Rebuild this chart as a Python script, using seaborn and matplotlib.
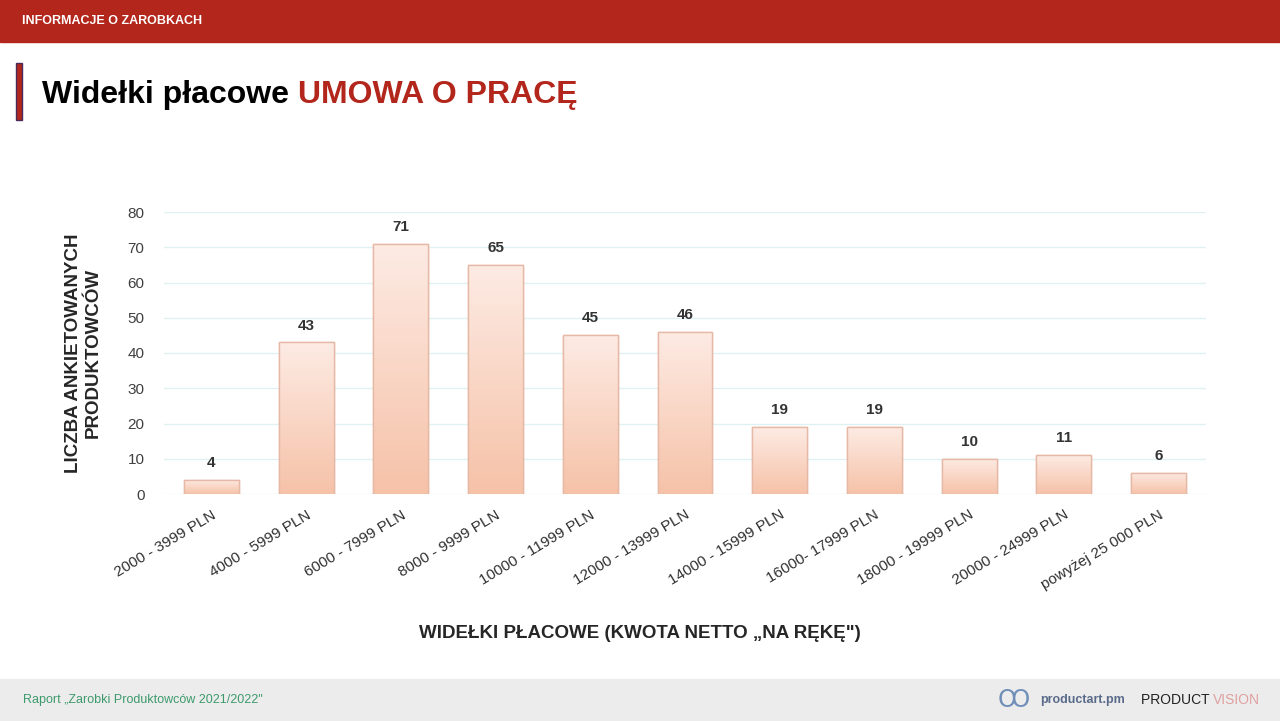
import numpy as np
import pandas as pd
import seaborn as sns
import matplotlib.pyplot as plt
from matplotlib.patches import Rectangle
from matplotlib.colors import LinearSegmentedColormap

ranges = ['2000 - 3999 PLN', '4000 - 5999 PLN', '6000 - 7999 PLN', '8000 - 9999 PLN',
          '10000 - 11999 PLN', '12000 - 13999 PLN', '14000 - 15999 PLN', '16000- 17999 PLN',
          '18000 - 19999 PLN', '20000 - 24999 PLN', 'powyżej 25 000 PLN']
counts = [4, 43, 71, 65, 45, 46, 19, 19, 10, 11, 6]
yticks = [0, 10, 20, 30, 40, 50, 60, 70, 80]

df = pd.DataFrame({'range': ranges, 'count': counts})

sns.set_style('white')
plt.rcParams['font.family'] = ['Liberation Sans', 'DejaVu Sans']

fig = plt.figure(figsize=(12.8, 7.21), dpi=100)

# header / footer bands
fig.patches.append(Rectangle((0, 1 - 42 / 721), 1, 42 / 721, transform=fig.transFigure,
                             color='#b2261b', zorder=0))
fig.patches.append(Rectangle((0, 0), 1, 42 / 721, transform=fig.transFigure,
                             color='#ececec', zorder=0))
fig.patches.append(Rectangle((16 / 1280, 1 - 120 / 721), 6 / 1280, 57 / 721,
                             transform=fig.transFigure, facecolor='#b2261b',
                             edgecolor='#4a2a5a', linewidth=1, zorder=1))
fig.text(22 / 1280, 1 - 21 / 721, 'INFORMACJE O ZAROBKACH', color='white',
         fontsize=9, fontweight='bold', va='center')
t1 = fig.text(42 / 1280, 1 - 95 / 721, 'Widełki płacowe ', color='black',
              fontsize=23, fontweight='bold', va='center')
fig.canvas.draw()
bb = t1.get_window_extent()
fig.text(bb.x1 / 1280, 1 - 95 / 721, 'UMOWA O PRACĘ', color='#b2261b',
         fontsize=23, fontweight='bold', va='center')
fig.text(23 / 1280, 1 - 700 / 721, 'Raport „Zarobki Produktowców 2021/2022"', color='#3d9a6c',
         fontsize=9, va='center')
fig.text(998 / 1280, 1 - 700 / 721, 'Ꝏ', color='#6f8fb8', fontsize=17, va='center',
         family='DejaVu Sans')
fig.text(1040 / 1280, 1 - 700 / 721, 'productart.pm', color='#5a6b8a', fontsize=9,
         fontweight='bold', va='center')
pv = fig.text(1141 / 1280, 1 - 700 / 721, 'PRODUCT ', color='#222222', fontsize=10,
              va='center')
fig.canvas.draw()
pb = pv.get_window_extent()
fig.text(pb.x1 / 1280, 1 - 700 / 721, 'VISION', color='#e0a0a0', fontsize=10, va='center')

ax = fig.add_axes([164 / 1280, 227 / 721, 1042 / 1280, 282 / 721])
sns.barplot(data=df, x='range', y='count', ax=ax, width=0.58, color='#f7cdb8',
            edgecolor='#e6b4a0', linewidth=1, zorder=3)

ax.set_ylim(0, 80)
ax.set_yticks(yticks)
ax.grid(axis='y', color='#dff1f1', linewidth=1, zorder=0)
for s in ax.spines.values():
    s.set_visible(False)
ax.tick_params(axis='y', length=0, labelsize=11, labelcolor='#404040', pad=14)
ax.tick_params(axis='x', length=0, labelsize=11, labelcolor='#303030', pad=10)
ax.set_xticks(range(len(ranges)))
ax.set_xticklabels(ranges, rotation=31, ha='right', rotation_mode='anchor')
ax.set_xlabel('')

# gradient fill on bars
cmap = LinearSegmentedColormap.from_list('g', ['#f6c2a8', '#fdebe4'])
grad = np.linspace(0, 1, 256).reshape(-1, 1)
for p in list(ax.patches):
    x0, w, h = p.get_x(), p.get_width(), p.get_height()
    im = ax.imshow(grad, cmap=cmap, extent=[x0, x0 + w, 0, h], origin='lower',
                   aspect='auto', zorder=3.5)
    im.set_clip_path(p)
    ax.text(x0 + w / 2, h + 4.8, str(int(h)), ha='center', va='center',
            fontsize=11, fontweight='bold', color='#333333', zorder=5)
    ax.add_patch(Rectangle((x0, 0), w, h, fill=False, edgecolor='#e6b8a6',
                           linewidth=1, zorder=4))
ax.set_xlim(-0.5, len(ranges) - 0.5)
ax.set_ylim(0, 80)

fig.text(640 / 1280, 1 - 634 / 721, 'WIDEŁKI PŁACOWE (KWOTA NETTO „NA RĘKĘ")',
         fontsize=13.5, fontweight='bold', color='#262626', ha='center', va='center')
ax.set_ylabel('LICZBA ANKIETOWANYCH\nPRODUKTOWCÓW', fontsize=13.5, fontweight='bold',
              color='#262626', linespacing=1.2)
ax.yaxis.set_label_coords(-62 / 1042, 0.5)

fig.savefig('out.png', dpi=100)
